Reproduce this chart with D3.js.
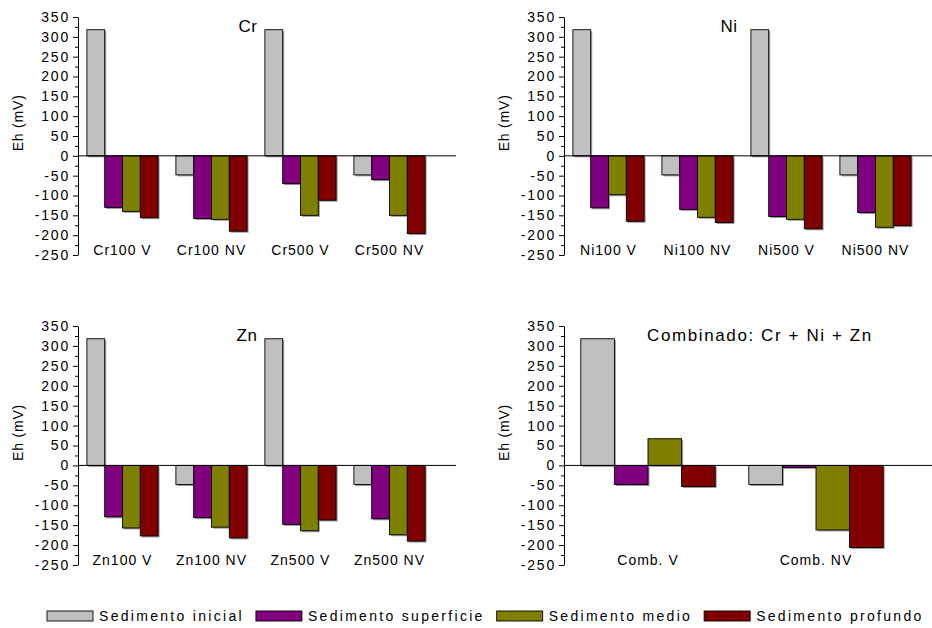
<!DOCTYPE html>
<html>
<head>
<meta charset="utf-8">
<script src="https://cdn.jsdelivr.net/npm/d3@7"></script>
<style>
  body { margin: 0; background: #fff; }
  text { font-family: "Liberation Sans", Arial, sans-serif; fill: #000; }
</style>
</head>
<body>
<script>
// series (sediment layer)
const series = ["Sedimento inicial", "Sedimento superficie", "Sedimento medio", "Sedimento profundo"];
const colors = ["#c0c0c0", "#800080", "#808000", "#800000"];

// Cr
const crCats = ["Cr100 V", "Cr100 NV", "Cr500 V", "Cr500 NV"];
const crValues = [
  [318, -130, -140, -156],
  [-48, -158, -160, -190],
  [318, -70, -150, -112],
  [-48, -60, -150, -196]
];
// Ni
const niCats = ["Ni100 V", "Ni100 NV", "Ni500 V", "Ni500 NV"];
const niValues = [
  [318, -131, -98, -165],
  [-48, -135, -155, -168],
  [318, -153, -160, -184],
  [-48, -143, -180, -176]
];
// Zn
const znCats = ["Zn100 V", "Zn100 NV", "Zn500 V", "Zn500 NV"];
const znValues = [
  [318, -129, -157, -177],
  [-48, -131, -155, -182],
  [318, -148, -164, -137],
  [-48, -134, -174, -190]
];
// combined
const combCats = ["Comb. V", "Comb. NV"];
const combValues = [
  [318, -48, 67, -53],
  [-48, -5, -162, -206]
];

const yTicks = d3.range(-250, 351, 50);
const yMinor = d3.range(-225, 351, 50);

const svg = d3.select("body").append("svg")
  .attr("width", 932)
  .attr("height", 628);

const panels = [
  {title: "Cr", cats: crCats, vals: crValues, ax: 78, top: 17, bottom: 255, step: 89, lineEnd: 456, tx: 248, labX: 18},
  {title: "Ni", cats: niCats, vals: niValues, ax: 564, top: 17, bottom: 255, step: 89, lineEnd: 932, tx: 729, labX: 504},
  {title: "Zn", cats: znCats, vals: znValues, ax: 78, top: 326, bottom: 565, step: 89, lineEnd: 456, tx: 247, labX: 18},
  {title: "Combinado: Cr + Ni + Zn", cats: combCats, vals: combValues, ax: 564, top: 326, bottom: 565, step: 168, lineEnd: 932, tx: 760, labX: 504}
];

panels.forEach(p => {
  const g = svg.append("g");
  const y = d3.scaleLinear().domain([-250, 350]).range([p.bottom, p.top]);
  const x = d3.scaleBand().domain(p.cats)
    .range([p.ax, p.ax + p.step * p.cats.length])
    .paddingInner(0.2).paddingOuter(0.1);
  const xs = d3.scaleBand().domain(series).range([0, x.bandwidth()]);

  // minor ticks
  g.append("g")
    .attr("transform", `translate(${p.ax},0)`)
    .call(d3.axisLeft(y).tickValues(yMinor).tickSize(3).tickFormat(""))
    .call(a => a.select(".domain").remove());

  // major axis
  g.append("g")
    .attr("transform", `translate(${p.ax},0)`)
    .call(d3.axisLeft(y).tickValues(yTicks).tickSize(5).tickSizeOuter(0).tickPadding(3)
      .tickFormat(d => String(d)))
    .call(a => a.selectAll("text")
      .style("font-size", "14px")
      .style("letter-spacing", "1.8px")
      .attr("font-family", null));

  g.selectAll(".tick line, .domain").attr("stroke", "#000");

  // bars
  const grp = g.selectAll(".grp")
    .data(p.cats)
    .join("g")
    .attr("transform", d => `translate(${x(d)},0)`);

  const bars = grp.selectAll("g.bar")
    .data((d, i) => p.vals[i].map((v, j) => ({s: series[j], v: v, c: colors[j]})))
    .join("g").attr("class", "bar");

  bars.append("rect")
    .attr("x", d => xs(d.s) + 1.5)
    .attr("y", d => Math.min(y(d.v), y(0)) + 1.5)
    .attr("width", xs.bandwidth())
    .attr("height", d => Math.abs(y(d.v) - y(0)))
    .attr("fill", "#9a9a9a");

  bars.append("rect")
    .attr("x", d => xs(d.s))
    .attr("y", d => Math.min(y(d.v), y(0)))
    .attr("width", xs.bandwidth())
    .attr("height", d => Math.abs(y(d.v) - y(0)))
    .attr("fill", d => d.c)
    .attr("stroke", "#000")
    .attr("stroke-width", 0.9);

  // zero line
  g.append("line")
    .attr("x1", p.ax).attr("x2", p.lineEnd)
    .attr("y1", y(0)).attr("y2", y(0))
    .attr("stroke", "#000");

  // category labels
  g.selectAll(".cat")
    .data(p.cats)
    .join("text")
    .attr("x", d => x(d) + x.bandwidth() / 2)
    .attr("y", y(-250))
    .attr("text-anchor", "middle")
    .style("font-size", "14px")
    .style("letter-spacing", "1px")
    .text(d => d);

  // title
  g.append("text")
    .attr("x", p.tx)
    .attr("y", p.top + 15)
    .attr("text-anchor", "middle")
    .style("font-size", "17px")
    .style("letter-spacing", p.cats.length === 2 ? "1.6px" : "0.5px")
    .text(p.title);

  // y label
  g.append("text")
    .attr("transform", `translate(${p.labX + 5},${y(0) - 33}) rotate(-90)`)
    .attr("text-anchor", "middle")
    .style("font-size", "14px")
    .style("letter-spacing", "0.8px")
    .text("Eh (mV)");
});

// legend
const leg = svg.append("g");
let lx = 47;
series.forEach((s, i) => {
  leg.append("rect")
    .attr("x", lx).attr("y", 611)
    .attr("width", 46).attr("height", 10)
    .attr("fill", colors[i])
    .attr("stroke", "#000")
    .attr("stroke-width", 0.9);
  const t = leg.append("text")
    .attr("x", lx + 52)
    .attr("y", 621)
    .style("font-size", "14px")
    .style("letter-spacing", "2.3px")
    .text(s);
  lx = lx + 52 + t.node().getComputedTextLength() + 12;
});
</script>
</body>
</html>
